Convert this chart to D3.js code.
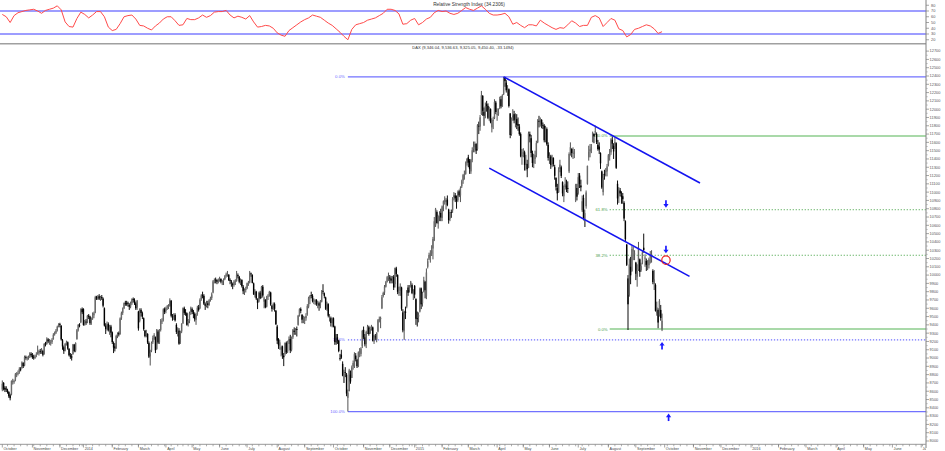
<!DOCTYPE html>
<html><head><meta charset="utf-8">
<script src="https://cdn.jsdelivr.net/npm/d3@7"></script>
<style>body{margin:0;background:#fff}svg{display:block;font-family:"Liberation Sans",Arial,sans-serif}</style>
</head><body><svg id="c" width="945" height="451"></svg>
<script>
// ---------- data ----------
const firstSession = "2013-10-01";
const axisEnd = "2016-07-30";
const holidays = ["2013-12-24","2013-12-25","2013-12-26","2013-12-31","2014-01-01","2014-04-18","2014-04-21","2014-05-01",
  "2014-12-24","2014-12-25","2014-12-26","2014-12-31","2015-01-01","2015-04-03","2015-04-06","2015-05-01"];
const opens = [
8620,8700,8640,8630,8610,8590,8550,8560,8710,8720,8740,8800,8810,8830,8870,8880,8940,8910,9010,9000,9005,9020,9050,
9030,9015,9000,9030,9050,9060,9085,9080,9085,9050,9175,9170,9225,9195,9190,9195,9230,9285,9305,9335,9380,
9410,9390,9215,9130,9090,9180,9190,9110,9030,9020,9050,9160,9090,9230,9340,9400,9430,9590,
9590,9410,9440,9430,9510,9500,9420,9480,9515,9545,9735,9720,9745,9710,9735,9715,9600,9390,9350,9410,9300,9380,
9310,9180,9140,9120,9270,9300,9290,9480,9545,9600,9665,9660,9665,9640,9620,9660,9710,9700,9660,9610,
9560,9450,9580,9540,9480,9330,9270,9290,9180,9020,9090,9190,9240,9250,9110,9320,9190,9340,9450,9460,9590,
9570,9610,9620,9630,9690,9500,9500,9520,9400,9300,9330,9190,9320,9420,9600,9550,9540,9420,9450,9560,
9590,9560,9530,9460,9530,9610,9600,9710,9760,9750,9650,9630,9660,9640,9700,9725,9790,9930,9945,9940,9920,
9950,9955,9910,9930,9950,9990,10010,10005,9940,9920,9890,9880,9920,9930,10000,9980,9925,9940,9860,9800,9820,
9840,9900,9910,10020,10000,9900,9760,9800,9700,9680,9790,9730,9860,9680,9700,9620,9740,9760,9790,9630,9600,9650,9570,
9380,9230,9150,9100,9140,9030,9050,9180,9080,9200,9230,9100,9250,9330,9300,9350,9400,9510,9590,9520,9470,
9460,9480,9530,9620,9720,9760,9750,9680,9690,9700,9650,9660,9640,9680,9810,9780,9730,9590,9650,9480,9480,9420,
9480,9380,9200,9250,9210,9000,9040,8930,8700,8830,8800,8520,8600,8800,8760,8900,8900,9030,8980,8900,9070,9050,9140,
9340,9250,9170,9300,9370,9300,9360,9370,9200,9260,9220,9320,9450,9470,9600,9750,9790,9860,9920,9980,
9970,9960,9950,9980,9890,10080,10000,9780,9810,9850,9550,9330,9560,9620,9850,9820,9870,9880,9780,
9870,9710,9480,9500,9560,9840,9660,9800,9920,9750,10100,10200,10230,10260,10320,10420,10600,10760,10620,10710,10750,
10690,10850,10880,10880,10910,10790,10680,10760,10780,10940,10960,10920,10900,11010,10960,11070,11140,11210,11220,11350,
11420,11380,11250,11390,11520,11540,11580,11520,11800,11790,11940,12160,11970,11930,12060,12040,11890,12000,11780,11860,11890,12080,
11930,11940,12020,12120,12030,12180,12380,12320,12230,12240,11950,11700,11900,11940,11860,11880,11820,11790,11700,11430,
11460,11480,11330,11340,11290,11700,11650,11470,11350,11400,11450,11600,11860,11840,11870,11810,11800,11620,11760,11570,
11420,11430,11320,11410,11300,11170,11050,11000,11280,11300,11120,10950,11060,11080,11050,11250,11480,11520,11470,11460,10900,11050,
10990,11200,11080,10780,10930,10580,10830,11100,11420,11490,11510,11610,11700,11720,11700,11570,11550,11470,11250,11000,11220,11240,11250,
11330,11430,11480,11630,11560,11560,11590,11100,10950,11020,10960,10950,10870,10650,10370,9960,9760,10100,10050,10290,10250,
10150,9980,10070,10190,10060,10150,10330,10200,10170,10120,10120,10210,10220,10050,9890,9880,9540,9580,9510,9580,9346];
const highs = [
8730,8710,8660,8660,8630,8600,8570,8730,8750,8740,8820,8830,8850,8890,8890,8960,8950,9030,9030,9020,9030,9070,9070,
9060,9040,9040,9070,9150,9100,9110,9120,9100,9180,9195,9250,9240,9230,9220,9240,9300,9320,9350,9390,9420,
9425,9395,9230,9150,9180,9210,9200,9120,9060,9050,9170,9170,9190,9350,9410,9420,9600,9610,
9600,9460,9470,9520,9530,9510,9490,9550,9560,9750,9750,9760,9770,9750,9760,9730,9610,9420,9440,9430,9400,9400,
9320,9200,9180,9280,9310,9320,9490,9560,9610,9670,9690,9690,9680,9660,9680,9720,9730,9720,9680,9700,
9570,9600,9600,9560,9490,9340,9340,9300,9200,9100,9200,9270,9300,9260,9350,9340,9350,9470,9480,9600,9610,
9620,9640,9650,9720,9700,9530,9540,9540,9420,9370,9360,9330,9420,9610,9620,9590,9550,9470,9560,9620,
9610,9580,9550,9540,9630,9640,9720,9770,9800,9770,9670,9690,9690,9710,9740,9790,9940,9960,9970,9950,9960,
9980,9960,9940,9960,10000,10030,10050,10010,9960,9940,9910,9940,9950,10050,10020,9990,9960,9950,9880,9840,9860,
9910,9930,10050,10030,10010,9910,9830,9810,9720,9800,9810,9870,9880,9740,9710,9750,9770,9810,9800,9640,9670,9670,9580,
9400,9240,9220,9150,9150,9060,9190,9200,9210,9260,9280,9260,9350,9370,9360,9380,9520,9600,9610,9530,9510,
9500,9540,9650,9740,9760,9800,9770,9720,9710,9710,9690,9680,9700,9820,9890,9790,9740,9680,9660,9530,9500,9490,
9490,9390,9290,9290,9220,9050,9100,8960,8860,8890,8820,8620,8870,8850,8910,8970,9070,9060,8990,9080,9120,9130,9340,
9380,9290,9330,9400,9390,9380,9400,9380,9280,9290,9310,9470,9500,9500,9760,9800,9880,9930,9990,10030,
10000,9990,9990,10000,10090,10100,10010,9860,9900,9860,9590,9570,9620,9820,9880,9880,9930,9900,9830,
9880,9720,9560,9550,9850,9850,9800,9980,9930,10080,10200,10270,10300,10360,10460,10700,10810,10780,10720,10770,10800,
10840,10900,10950,10930,10960,10800,10760,10790,10940,11000,10990,10960,11020,11030,11070,11150,11220,11260,11370,11410,
11450,11400,11400,11540,11610,11610,11590,11820,11850,11930,12220,12170,12020,12080,12100,12070,12030,12010,11890,11910,12120,12100,
12010,12010,12150,12160,12180,12390,12390,12350,12290,12250,11950,11900,12000,11980,11950,11940,11900,11820,11720,11520,
11530,11500,11450,11390,11730,11730,11690,11500,11460,11500,11620,11880,11920,11900,11880,11840,11820,11800,11780,11600,
11480,11450,11450,11420,11330,11180,11100,11300,11390,11320,11130,11080,11180,11150,11130,11480,11600,11530,11540,11520,11100,11100,
11230,11230,11150,10960,10970,10790,11020,11320,11560,11580,11580,11730,11710,11802,11720,11630,11600,11480,11260,11220,11270,11290,11340,
11460,11520,11650,11670,11590,11660,11600,11140,11060,11050,11010,10990,10890,10660,10370,10000,10200,10220,10350,10340,10300,
10160,10130,10400,10200,10150,10290,10500,10250,10200,10180,10210,10290,10300,10070,10060,9900,9680,9600,9710,9640,9536];
const lows = [
8600,8610,8590,8590,8570,8520,8490,8550,8680,8690,8720,8770,8790,8810,8840,8870,8880,8900,8980,8970,8980,9000,9010,
8990,8980,8990,9010,9040,9030,9050,9050,9020,9040,9140,9160,9180,9160,9150,9170,9220,9270,9290,9320,9370,
9370,9210,9100,9050,9080,9150,9100,9020,8990,8970,9040,9070,9070,9220,9320,9370,9420,9530,
9390,9390,9400,9420,9470,9400,9400,9460,9480,9540,9700,9700,9700,9690,9700,9610,9380,9290,9330,9320,9280,9250,
9170,9060,9080,9110,9240,9260,9280,9460,9520,9590,9630,9630,9620,9580,9600,9640,9670,9640,9580,9580,
9330,9430,9500,9470,9330,9250,9250,9170,9000,8910,9070,9170,9220,9060,9100,9170,9170,9320,9410,9440,9530,
9540,9580,9590,9620,9490,9450,9460,9440,9290,9260,9160,9170,9300,9410,9520,9510,9390,9380,9420,9520,
9530,9480,9440,9400,9510,9560,9590,9690,9720,9640,9580,9610,9600,9630,9680,9700,9780,9900,9900,9890,9900,
9920,9900,9880,9880,9940,9970,9980,9930,9890,9860,9830,9860,9880,9920,9960,9900,9880,9850,9770,9760,9790,
9830,9870,9900,9980,9900,9760,9730,9700,9590,9670,9710,9720,9730,9600,9600,9610,9700,9740,9630,9560,9580,9560,9400,
9170,9110,9100,9020,8990,8903,9030,9050,9060,9170,9060,9080,9230,9280,9280,9260,9390,9500,9540,9420,9420,
9410,9450,9510,9600,9650,9720,9670,9650,9640,9630,9600,9570,9600,9670,9770,9720,9580,9570,9490,9440,9380,9370,
9370,9160,9160,9170,9070,8970,8990,8780,8700,8770,8540,8355,8600,8690,8760,8860,8880,8960,8880,8890,9010,9020,9120,
9230,9140,9120,9290,9270,9290,9330,9200,9170,9220,9190,9310,9430,9360,9590,9730,9760,9850,9910,9930,
9900,9900,9900,9820,9850,9980,9770,9750,9750,9570,9310,9219,9470,9600,9750,9790,9850,9770,9700,
9720,9400,9380,9430,9550,9590,9620,9790,9720,9710,10080,10180,10150,10230,10190,10410,10580,10620,10560,10650,10650,
10650,10770,10850,10790,10830,10620,10650,10690,10750,10900,10880,10800,10880,10940,10880,11050,11100,11150,11210,11320,
11300,11220,11220,11360,11480,11480,11460,11500,11700,11740,11930,11920,11800,11890,11970,11880,11860,11830,11720,11760,11880,11940,
11860,11920,12000,12010,12030,12170,12270,12200,12160,12020,11650,11680,11860,11830,11780,11760,11740,11680,11420,11330,
11420,11260,11260,11180,11290,11600,11420,11300,11290,11340,11420,11590,11780,11790,11770,11760,11600,11600,11560,11380,
11340,11280,11300,11310,11150,11020,10900,10990,11240,11170,10950,10880,11030,11000,10990,11230,11440,11420,11400,11410,10880,10900,
10970,11050,11010,10760,10660,10580,10800,11090,11380,11420,11470,11600,11590,11690,11580,11500,11460,11280,11040,10960,11150,11190,11190,
11310,11380,11450,11520,11400,11520,11280,10850,10870,10950,10860,10860,10650,10410,10110,9338,9740,9890,10040,10180,10180,
9940,9860,10050,9980,10040,10130,10270,10100,10050,10060,10080,10140,10150,9890,9820,9560,9510,9360,9500,9450,9325];
const closes = [
8690,8630,8620,8625,8590,8540,8516,8724,8725,8723,8804,8805,8822,8870,8868,8947,8903,9012,9002,9004,9007,9056,9033,
9009,9007,9020,9040,9080,9079,9078,9090,9040,9170,9168,9225,9200,9195,9190,9220,9280,9300,9330,9378,9405,
9400,9224,9140,9084,9172,9191,9114,9034,9017,9006,9164,9085,9181,9336,9400,9390,9589,9552,
9400,9435,9428,9506,9497,9421,9473,9510,9540,9733,9717,9742,9715,9730,9720,9631,9392,9349,9406,9336,9374,9306,
9193,9127,9116,9265,9290,9285,9478,9540,9597,9662,9656,9659,9660,9618,9656,9708,9699,9661,9600,9692,
9358,9589,9542,9500,9350,9265,9307,9188,9017,9056,9181,9242,9277,9093,9342,9188,9338,9448,9451,9587,9556,
9603,9623,9629,9695,9510,9490,9506,9455,9315,9339,9173,9317,9409,9600,9545,9548,9401,9446,9540,9603,
9556,9529,9467,9521,9607,9581,9703,9754,9755,9656,9630,9659,9639,9697,9720,9768,9925,9940,9940,9920,9943,
9950,9920,9926,9947,9987,10008,10013,9939,9929,9912,9883,9920,9928,10004,9987,9920,9938,9867,9805,9815,9833,
9902,9903,10029,10009,9906,9772,9808,9719,9666,9783,9720,9859,9753,9720,9613,9734,9753,9797,9644,9593,9653,9593,9407,
9210,9154,9189,9130,9039,9010,9181,9070,9199,9225,9092,9245,9335,9314,9340,9339,9510,9588,9569,9462,9470,
9460,9507,9626,9724,9747,9758,9686,9700,9691,9651,9660,9633,9661,9799,9799,9750,9595,9661,9510,9490,9422,9474,
9382,9195,9195,9209,9086,8995,9005,8788,8812,8825,8572,8582,8850,8717,8887,8940,9047,8987,8902,9068,9082,9114,9326,
9251,9166,9315,9377,9291,9351,9369,9210,9248,9252,9306,9456,9472,9483,9732,9785,9861,9915,9974,9980,
9963,9934,9971,9851,10087,10014,9799,9799,9862,9594,9334,9563,9544,9811,9787,9865,9922,9783,9806,
9765,9473,9469,9518,9837,9648,9781,9941,9817,10032,10167,10242,10257,10299,10435,10649,10798,10628,10710,10738,10694,
10828,10891,10911,10905,10846,10663,10752,10752,10919,10963,10924,10895,11001,10961,11050,11131,11205,11211,11352,11401,
11356,11280,11390,11504,11550,11582,11500,11805,11799,11901,12167,11980,11922,12036,12039,11896,11996,11843,11865,11868,12086,11966,
11939,11967,12123,12035,12166,12375,12338,12227,12232,12039,11689,11892,11923,11864,11874,11811,11800,11700,11432,11454,
11483,11327,11350,11277,11709,11672,11472,11351,11404,11447,11591,11853,11848,11864,11815,11800,11625,11771,11577,11413,
11436,11328,11419,11340,11197,11064,10985,11265,11333,11196,10984,11045,11100,11040,11040,11460,11542,11471,11473,11492,11083,10945,
11180,11099,11058,10890,10676,10747,10996,11316,11485,11516,11540,11716,11673,11734,11604,11520,11512,11347,11056,11173,11211,11257,11309,
11444,11456,11636,11585,11490,11604,11293,10924,11014,10985,10940,10915,10682,10432,10124,9648,10128,9997,10315,10298,10259,
10016,10048,10318,10038,10108,10271,10303,10210,10123,10131,10188,10227,10229,9916,9948,9570,9612,9428,9688,9483,9450];
// RSI read every third session
const rsiStep = 3;
const rsiValues = [64,60,50,62,67,69,71,72,73,70, 66,71,73,75,79,72,51,43,42,57, 68,64,58,63,69,69,60,42,36,38,
 48,60,62,63,56,45,44,40,37,44, 49,56,60,60,53,45,46,57,55,55, 58,63,59,62,68,69,69,71,63,58,
 61,59,56,62,51,42,43,45,44,40, 32,28,26,36,41,46,51,55,58,63, 61,59,54,49,45,39,33,26,20,38,
 46,48,50,54,56,58,62,66,73,73, 71,65,47,48,54,57,46,50,56,59, 67,71,69,70,66,64,66,71,76,73,
 71,75,79,73,66,63,63,64,66,60, 47,50,45,41,46,46,44,54,49,45, 41,38,41,40,46,53,49,43,45,45,
 59,62,58,43,50,57,54,39,36,25, 29,38,40,43,46,44,39,31,34];
const rsiLevels = [70, 30];
const rsiTicks = [20,30,40,50,60,70,80];
const rsiTitle = "Relative Strength Index (34.2306)";
const priceTitle = "DAX (9,346.04, 9,536.63, 9,325.05, 9,450.40, -33.1494)";
const monthNames = ["","February","March","April","May","June","July","August","September","October","November","December"];
// Fibonacci retracements
const blueFibStart = "2014-10-16";
const blueFibLevels = [12390, 9219, 8355];
const blueFibLabels = ["0.0%", "78.6%", "100.0%"];
const blueFibDotted = [false, true, false];
const greenFibStart = "2015-08-04";
const greenFibLevels = [11677, 10788, 10239, 9350];
const greenFibLabels = ["100.0%", "61.8%", "38.2%", "0.0%"];
const greenFibDotted = [false, true, true, false];
// channel lines [date, value]
const channelUpper = [["2015-04-10", 12390], ["2015-11-09", 11110]];
const channelLower = [["2015-03-24", 11290], ["2015-10-28", 9985]];
// arrows and circle
const arrowDates = ["2015-10-02", "2015-10-02", "2015-09-29", "2015-10-06"];
const arrowLevels = [10788, 10239, 9219, 8355];
const arrowDirs = ["down", "down", "up", "up"];
const circleMark = ["2015-10-02", 10180];

// ---------- scales ----------
const svg = d3.select("#c");
const parse = d3.utcParse("%Y-%m-%d"), fmt = d3.utcFormat("%Y-%m-%d");
const hol = new Set(holidays);
const sessions = d3.utcDay.range(parse(firstSession), parse(axisEnd))
  .filter(d => { const w = d.getUTCDay(); return w !== 0 && w !== 6 && !hol.has(fmt(d)); });
const sIndex = new Map(sessions.map((d, i) => [fmt(d), i]));
const x = d3.scaleLinear().domain([0, 1]).range([2.3, 3.609]);
const xd = s => x(sIndex.get(s));
const y = d3.scaleLinear().domain([8000, 12400]).range([441, 76]);
const yr = d3.scaleLinear().domain([30, 70]).range([34, 11]);
const AX = 926;

const defs = svg.append("defs");
defs.append("clipPath").attr("id", "plot").append("rect").attr("x", 0).attr("y", 44).attr("width", AX).attr("height", 400);
defs.append("clipPath").attr("id", "rsi").append("rect").attr("x", 0).attr("y", 0).attr("width", AX).attr("height", 43);
defs.append("clipPath").attr("id", "xax").append("rect").attr("x", 0).attr("y", 444).attr("width", AX).attr("height", 10);

// ---------- RSI panel ----------
const rg = svg.append("g").attr("clip-path", "url(#rsi)");
rg.selectAll("line.lvl").data(rsiLevels).join("line")
  .attr("x1", 0).attr("x2", AX).attr("y1", d => yr(d)).attr("y2", d => yr(d))
  .attr("stroke", "#7d7dff").attr("stroke-width", 1.3);
rg.append("path").datum(rsiValues)
  .attr("d", d3.line().x((v, k) => x(k * rsiStep)).y(v => yr(v)))
  .attr("fill", "none").attr("stroke", "#ff4a4a").attr("stroke-width", 1);
svg.append("text").attr("x", 469).attr("y", 5.8).attr("text-anchor", "middle")
  .attr("font-size", 4.8).attr("fill", "#333").text(rsiTitle);
svg.append("line").attr("x1", 0).attr("x2", AX).attr("y1", 43.8).attr("y2", 43.8)
  .attr("stroke", "#a0a0a0").attr("stroke-width", 1.4);

// ---------- price panel ----------
svg.append("text").attr("x", 463).attr("y", 49.3).attr("text-anchor", "middle")
  .attr("font-size", 4.1).attr("fill", "#333").text(priceTitle);

const pg = svg.append("g").attr("clip-path", "url(#plot)");

// blue fib
const xb = xd(blueFibStart);
blueFibLevels.forEach((v, k) => {
  pg.append("line").attr("x1", xb).attr("x2", AX).attr("y1", y(v)).attr("y2", y(v))
    .attr("stroke", "#7272ff").attr("stroke-width", blueFibDotted[k] ? 1.1 : 1.3)
    .attr("stroke-dasharray", blueFibDotted[k] ? "1.3,1.7" : null);
  pg.append("text").attr("x", xb - 3).attr("y", y(v)).attr("dy", "0.35em").attr("text-anchor", "end")
    .attr("font-size", 4.3).attr("fill", "#6a6aff").text(blueFibLabels[k]);
});
// green fib
const xg = xd(greenFibStart);
greenFibLevels.forEach((v, k) => {
  pg.append("line").attr("x1", xg).attr("x2", AX).attr("y1", y(v)).attr("y2", y(v))
    .attr("stroke", greenFibDotted[k] ? "#5aad5a" : "#8ccc8c").attr("stroke-width", greenFibDotted[k] ? 1 : 1.4)
    .attr("stroke-dasharray", greenFibDotted[k] ? "1.2,1.8" : null);
  pg.append("text").attr("x", xg - 2).attr("y", y(v)).attr("dy", "0.35em").attr("text-anchor", "end")
    .attr("font-size", 4.3).attr("fill", "#4fa04f").text(greenFibLabels[k]);
});

// candles
const idx = d3.range(closes.length);
const up = i => closes[i] >= opens[i];
pg.selectAll("line.wick").data(idx).join("line")
  .attr("x1", i => x(i)).attr("x2", i => x(i))
  .attr("y1", i => y(highs[i])).attr("y2", i => y(lows[i]))
  .attr("stroke", i => up(i) ? "#4a4a4a" : "#000").attr("stroke-width", 0.95);
pg.selectAll("rect.body").data(idx).join("rect")
  .attr("x", i => x(i) - 0.7).attr("width", 1.4)
  .attr("y", i => y(Math.max(opens[i], closes[i])))
  .attr("height", i => Math.max(0.8, Math.abs(y(opens[i]) - y(closes[i]))))
  .attr("fill", i => up(i) ? "#6a6a6a" : "#000");

// channel
[channelUpper, channelLower].forEach(seg => {
  pg.append("line")
    .attr("x1", xd(seg[0][0])).attr("y1", y(seg[0][1]))
    .attr("x2", xd(seg[1][0])).attr("y2", y(seg[1][1]))
    .attr("stroke", "#1414f0").attr("stroke-width", 1.6);
});

// arrows
arrowDates.forEach((d, k) => {
  const ax = xd(d);
  const down = arrowDirs[k] === "down";
  const tip = y(arrowLevels[k]) + (down ? -2 : 2);
  const s = down ? -1 : 1;
  pg.append("line").attr("x1", ax).attr("x2", ax).attr("y1", tip + s * 3).attr("y2", tip + s * 7.5)
    .attr("stroke", "#1a1aff").attr("stroke-width", 1.7);
  pg.append("path")
    .attr("d", `M${ax - 2.6},${tip + s * 3.6}L${ax + 2.6},${tip + s * 3.6}L${ax},${tip}Z`)
    .attr("fill", "#1a1aff");
});
pg.append("circle").attr("cx", xd(circleMark[0])).attr("cy", y(circleMark[1])).attr("r", 4.2)
  .attr("fill", "none").attr("stroke", "#ee2020").attr("stroke-width", 1.2);

// ---------- right axis ----------
svg.append("line").attr("x1", AX).attr("x2", AX).attr("y1", 0).attr("y2", 448)
  .attr("stroke", "#808080").attr("stroke-width", 1);
const priceTicks = d3.range(8000, 12701, 100);
const minorTicks = d3.range(8050, 12700, 100);
svg.selectAll("line.pt").data(priceTicks).join("line")
  .attr("x1", AX).attr("x2", AX + 3).attr("y1", d => y(d)).attr("y2", d => y(d))
  .attr("stroke", "#808080").attr("stroke-width", 0.7);
svg.selectAll("line.pm").data(minorTicks).join("line")
  .attr("x1", AX).attr("x2", AX + 1.8).attr("y1", d => y(d)).attr("y2", d => y(d))
  .attr("stroke", "#909090").attr("stroke-width", 0.5);
svg.selectAll("text.pt").data(priceTicks).join("text")
  .attr("x", AX + 3.6).attr("y", d => y(d)).attr("dy", "0.35em")
  .attr("font-size", 3.9).attr("fill", "#555").text(d => d);
svg.selectAll("line.rt").data(rsiTicks).join("line")
  .attr("x1", AX).attr("x2", AX + 3).attr("y1", d => yr(d)).attr("y2", d => yr(d))
  .attr("stroke", "#808080").attr("stroke-width", 0.7);
svg.selectAll("text.rt").data(rsiTicks).join("text")
  .attr("x", AX + 5).attr("y", d => yr(d)).attr("dy", "0.35em")
  .attr("font-size", 3.9).attr("fill", "#555").text(d => d);

// ---------- bottom axis ----------
svg.append("line").attr("x1", 0).attr("x2", AX).attr("y1", 444.3).attr("y2", 444.3)
  .attr("stroke", "#999").attr("stroke-width", 1);
const monthStarts = sessions.map((d, i) => i).filter(i => i === 0 || sessions[i].getUTCMonth() !== sessions[i - 1].getUTCMonth());
const weekStarts = sessions.map((d, i) => i).filter(i => i > 0 && sessions[i].getUTCDay() < sessions[i - 1].getUTCDay());
const xg2 = svg.append("g").attr("clip-path", "url(#xax)");
xg2.selectAll("line.wk").data(weekStarts).join("line")
  .attr("x1", i => x(i)).attr("x2", i => x(i)).attr("y1", 444.5).attr("y2", 446.3)
  .attr("stroke", "#777").attr("stroke-width", 0.6);
xg2.selectAll("line.mo").data(monthStarts).join("line")
  .attr("x1", i => x(i)).attr("x2", i => x(i)).attr("y1", 444.5).attr("y2", 447.5)
  .attr("stroke", "#666").attr("stroke-width", 0.6);
xg2.selectAll("text.mo").data(monthStarts).join("text")
  .attr("x", i => x(i) + 1.2).attr("y", 450.2)
  .attr("font-size", 3.7).attr("fill", "#444")
  .text(i => { const d = sessions[i]; const m = d.getUTCMonth(); return m === 0 ? String(d.getUTCFullYear()) : monthNames[m]; });
</script></body></html>
